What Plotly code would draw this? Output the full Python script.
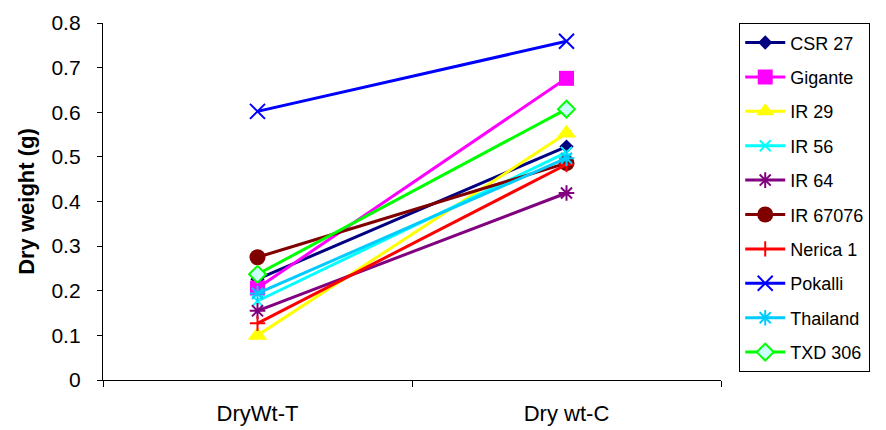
import plotly.graph_objects as go

categories = ["DryWt-T", "Dry wt-C"]
series_names = ["CSR 27", "Gigante", "IR 29", "IR 56", "IR 64", "IR 67076",
                "Nerica 1", "Pokalli", "Thailand", "TXD 306"]
csr27 = [0.226, 0.523]
gigante = [0.206, 0.676]
ir29 = [0.100, 0.553]
ir56 = [0.177, 0.510]
ir64 = [0.155, 0.419]
ir67076 = [0.275, 0.486]
nerica1 = [0.127, 0.483]
pokalli = [0.602, 0.759]
thailand = [0.194, 0.497]
txd306 = [0.237, 0.607]
values = [csr27, gigante, ir29, ir56, ir64, ir67076, nerica1, pokalli, thailand, txd306]

styles = [
    dict(color="#000080", symbol="diamond", size=11, fill="#000080", lw=0),
    dict(color="#FF00FF", symbol="square", size=15, fill="#FF00FF", lw=0),
    dict(color="#FFFF00", symbol="triangle-up", size=17, fill="#FFFF00", lw=0),
    dict(color="#00FFFF", symbol="x-thin", size=11, fill="#00FFFF", lw=2),
    dict(color="#800080", symbol="asterisk", size=13, fill="#800080", lw=2),
    dict(color="#800000", symbol="circle", size=16, fill="#800000", lw=0),
    dict(color="#FF0000", symbol="cross-thin", size=11, fill="#FF0000", lw=2),
    dict(color="#0000FF", symbol="x-thin", size=15, fill="#0000FF", lw=2),
    dict(color="#00CCFF", symbol="asterisk", size=13, fill="#00CCFF", lw=2),
    dict(color="#00FF00", symbol="diamond", size=13, fill="#CCFFFF", lw=2),
]

fig = go.Figure()
for name, vals, st in zip(series_names, values, styles):
    fig.add_trace(go.Scatter(
        x=categories, y=vals, name=name, mode="lines+markers",
        legendgroup=name,
        line=dict(color=st["color"], width=3),
        marker=dict(symbol=st["symbol"], size=st["size"], color=st["fill"],
                    line=dict(color=st["color"], width=st["lw"])),
    ))

font_family = "Arial, Liberation Sans, sans-serif"
fig.update_layout(
    width=886, height=430,
    margin=dict(l=103, r=165, t=23, b=50, autoexpand=False),
    paper_bgcolor="white", plot_bgcolor="white",
    font=dict(family=font_family, color="black"),
    showlegend=True,
    legend=dict(
        x=1.029, xanchor="left", y=1.0, yanchor="top",
        bordercolor="black", borderwidth=1.3,
        font=dict(size=18, family=font_family),
        tracegroupgap=8,
        itemwidth=40,
    ),
    xaxis=dict(
        type="category", range=[-0.5, 1.5],
        showline=True, linecolor="black", linewidth=1.3,
        ticks="outside", ticklen=6, tickcolor="black", tickson="boundaries",
        showgrid=False, zeroline=False, automargin=False,
        tickfont=dict(size=22, family=font_family),
        ticklabelstandoff=13,
    ),
    yaxis=dict(
        range=[0, 0.8], dtick=0.1,
        showline=True, linecolor="black", linewidth=1.3,
        ticks="outside", ticklen=5, tickcolor="black",
        showgrid=False, zeroline=False, automargin=False,
        tickfont=dict(size=21, family=font_family),
        tickformat=".1~f",
        ticklabelstandoff=12,
        title=dict(text="<b>Dry weight (g)</b>", font=dict(size=22, family=font_family), standoff=10),
    ),
)

fig.write_html("out.html")
